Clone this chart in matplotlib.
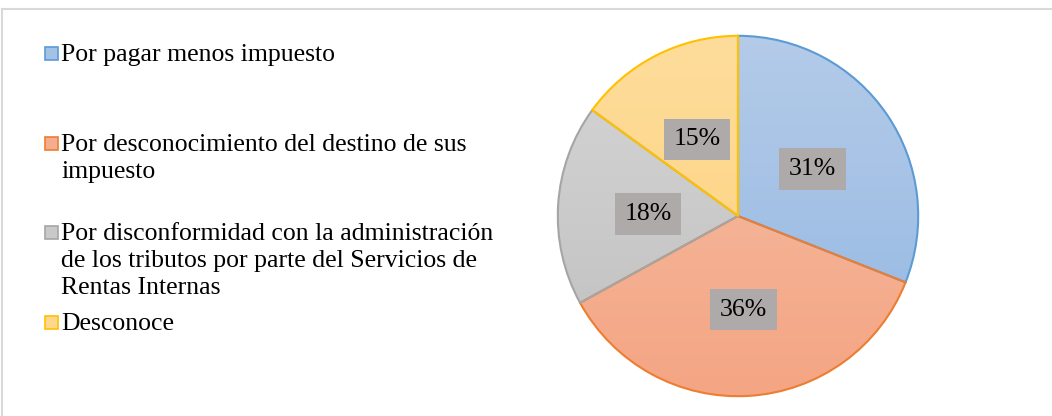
import numpy as np
import matplotlib
matplotlib.use("Agg")
import matplotlib.pyplot as plt
from matplotlib.colors import LinearSegmentedColormap
from matplotlib.patches import Rectangle
from matplotlib.lines import Line2D

plt.rcParams['font.family'] = ['Liberation Serif', 'DejaVu Serif']

labels = ["Por pagar menos impuesto",
          "Por desconocimiento del destino de sus\nimpuesto",
          "Por disconformidad con la administración\nde los tributos por parte del Servicios de\nRentas Internas",
          "Desconoce"]
values = [31, 36, 18, 15]
edge_colors = ["#5b9bd5", "#ed7d31", "#a5a5a5", "#ffc000"]
top_colors = ["#b4cbe9", "#f6c0a8", "#d6d6d6", "#fedd9c"]
bottom_colors = ["#93b7e2", "#f4a583", "#bfbfbf", "#fdd078"]
marker_colors = ["#a3c2e6", "#f4ad8f", "#c9c9c9", "#fed88c"]

W, H = 1052, 416
fig = plt.figure(figsize=(W / 100, H / 100), dpi=100)

# chart frame (top and left edges visible)
fig.add_artist(Line2D([2 / W, 1], [1 - 9 / H, 1 - 9 / H], color="#d9d9d9", lw=1.5))
fig.add_artist(Line2D([2 / W, 2 / W], [0, 1 - 9 / H], color="#d9d9d9", lw=1.5))

# pie
cx, cy, r = 738, 216, 182
ax = fig.add_axes([(cx - r) / W, (H - cy - r) / H, 2 * r / W, 2 * r / H])
wedges, texts, autotexts = ax.pie(
    values, startangle=90, counterclock=False, radius=1,
    autopct="%1.0f%%", pctdistance=0.5,
    wedgeprops=dict(facecolor="none", linewidth=1.5),
    textprops=dict(fontsize=18.5, color="black"))
grad = np.linspace(1, 0, 256).reshape(-1, 1)
for w, ec, tc, bc in zip(wedges, edge_colors, top_colors, bottom_colors):
    w.set_edgecolor(ec)
    cmap = LinearSegmentedColormap.from_list("g", [bc, tc])
    im = ax.imshow(grad, cmap=cmap, extent=(-1, 1, -1, 1), aspect="auto",
                   origin="upper", zorder=0.5, vmin=0, vmax=1)
    im.set_clip_path(w)
for t in autotexts:
    t.set_bbox(dict(boxstyle="square,pad=0.38", facecolor="#aeaaaa", edgecolor="none"))
    x, y = t.get_position()
    t.set_position((x, y - 0.02))
ax.set_xlim(-1.01, 1.01)
ax.set_ylim(-1.01, 1.01)
ax.set_aspect("equal")
ax.axis("off")

# legend
cap_tops = [45, 135, 224, 314]
for lab, mc, ec, y in zip(labels, marker_colors, edge_colors, cap_tops):
    fig.add_artist(Rectangle((45 / W, 1 - (y + 2 + 13) / H), 13 / W, 13 / H,
                             facecolor=mc, edgecolor=ec, lw=1.2))
    fig.text(61 / W, 1 - (y - 1) / H, lab, fontsize=18.5, ha="left", va="top",
             linespacing=1.3)

fig.savefig("out.png", dpi=100)
